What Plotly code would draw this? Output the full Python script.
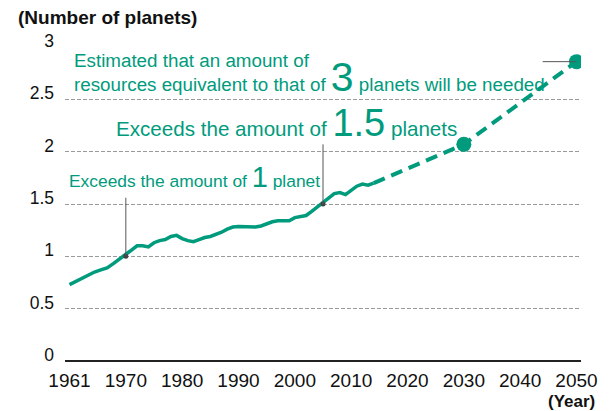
import plotly.graph_objects as go

# ---- data ----
years = list(range(1961, 2015))
planets = [0.73, 0.76, 0.79, 0.82, 0.85, 0.87, 0.89, 0.93, 0.98, 1.02,
           1.06, 1.10, 1.10, 1.09, 1.13, 1.15, 1.16, 1.19, 1.20, 1.17,
           1.15, 1.14, 1.16, 1.18, 1.19, 1.21, 1.23, 1.26, 1.28, 1.285,
           1.285, 1.28, 1.28, 1.29, 1.31, 1.33, 1.34, 1.34, 1.34, 1.37,
           1.38, 1.39, 1.43, 1.47, 1.51, 1.56, 1.60, 1.61, 1.59, 1.63,
           1.67, 1.69, 1.68, 1.70]
proj_years = [2014, 2030, 2050]
proj_planets = [1.70, 2.07, 2.86]
marker_years = [2030, 2050]
marker_planets = [2.07, 2.86]
milestone_years = [1970, 2005]
milestone_planets = [1.0, 1.5]
tick_years = [1961, 1970, 1980, 1990, 2000, 2010, 2020, 2030, 2040, 2050]
y_ticks = [0, 0.5, 1, 1.5, 2, 2.5, 3]

TEAL = "#009B7D"
FONT = "Liberation Sans, Arial, sans-serif"


def xpos(y):
    # first tick interval (1961-1970) is drawn with the same width as a decade
    return y if y >= 1970 else 1970 - (1970 - y) * 10 / 9


fig = go.Figure()
fig.add_trace(go.Scatter(x=[xpos(y) for y in years], y=planets, mode="lines",
                         line=dict(color=TEAL, width=3.5), hoverinfo="skip"))
fig.add_trace(go.Scatter(x=[xpos(y) for y in proj_years], y=proj_planets, mode="lines",
                         line=dict(color=TEAL, width=4, dash="12px,7px"), hoverinfo="skip"))
fig.add_trace(go.Scatter(x=[xpos(y) for y in marker_years], y=marker_planets, mode="markers",
                         marker=dict(color=TEAL, size=15), hoverinfo="skip"))

# leader lines
fig.add_shape(type="line", x0=xpos(1970), x1=xpos(1970), y0=1.0, y1=1.56,
              line=dict(color="#555", width=1))
fig.add_shape(type="line", x0=2005, x1=2005, y0=1.5, y1=2.07,
              line=dict(color="#555", width=1))
fig.add_shape(type="line", x0=2044, x1=2050, y0=2.86, y1=2.86,
              line=dict(color="#555", width=1))
fig.add_trace(go.Scatter(x=[xpos(y) for y in milestone_years], y=milestone_planets,
                         mode="markers", marker=dict(color="#444", size=5), hoverinfo="skip"))

fig.add_annotation(x=1959.5, y=1.587, xref="x", yref="y", xanchor="left", yanchor="bottom",
                   showarrow=False, align="left",
                   text="Exceeds the amount of <span style='font-size:29px'>1</span> planet",
                   font=dict(family=FONT, size=17.4, color=TEAL))
fig.add_annotation(x=1967.95, y=2.05, xref="x", yref="y", xanchor="left", yanchor="bottom",
                   showarrow=False, align="left",
                   text="Exceeds the amount of <span style='font-size:38px'>1.5</span> planets",
                   font=dict(family=FONT, size=20.6, color=TEAL))
fig.add_annotation(x=1960.5, y=2.47, xref="x", yref="y", xanchor="left", yanchor="bottom",
                   showarrow=False, align="left",
                   text="Estimated that an amount of<br>resources equivalent to that of "
                        "<span style='font-size:41px'>3</span> planets will be needed",
                   font=dict(family=FONT, size=18.8, color=TEAL))
fig.add_annotation(x=1.031, y=-0.13, xref="paper", yref="paper", xanchor="right", yanchor="middle",
                   showarrow=False, text="<b>(Year)</b>",
                   font=dict(family=FONT, size=17, color="#111"))

fig.update_layout(
    width=610, height=411, autosize=False,
    margin=dict(l=65, r=18, t=47, b=50),
    paper_bgcolor="white", plot_bgcolor="white",
    showlegend=False, hovermode=False,
    title=dict(text="<b>(Number of planets)</b>", x=18 / 610, xanchor="left",
               y=1 - 17 / 411, yanchor="middle",
               font=dict(family=FONT, size=19, color="#111")),
    font=dict(family=FONT, color="#111"),
)
fig.update_xaxes(range=[1959.2, 2050.8], tickvals=[xpos(y) for y in tick_years],
                 ticktext=[str(y) for y in tick_years], showgrid=False, zeroline=False,
                 showline=False, ticks="", ticklabelstandoff=6,
                 tickfont=dict(family=FONT, size=19, color="#111"))
fig.update_yaxes(range=[0, 3], tickvals=y_ticks, ticktext=["0", "0.5", "1", "1.5", "2", "2.5", "3"],
                 showgrid=True, gridcolor="#9a9a9a", gridwidth=1, griddash="4px,2px",
                 zeroline=True, zerolinecolor="#222", zerolinewidth=2,
                 showline=False, ticks="", ticklabelstandoff=10, ticklabelshift=-6,
                 tickfont=dict(family=FONT, size=17.5, color="#111"))

fig.write_html("out.html")
